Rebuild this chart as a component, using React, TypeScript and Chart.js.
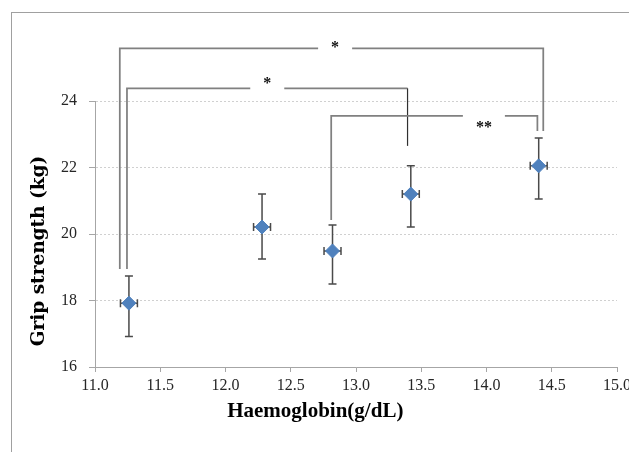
import React, { useEffect, useRef } from 'react';
import { Chart, registerables } from 'chart.js';

Chart.register(...registerables);

// ---- data ----
const haemoglobin = [11.26, 12.28, 12.82, 13.42, 14.40];
const haemoglobinErr = [0.065, 0.065, 0.065, 0.065, 0.065];
const gripStrength = [17.92, 20.21, 19.49, 21.20, 22.05];
const gripUpper = [18.74, 21.20, 20.27, 22.05, 22.89];
const gripLower = [16.92, 19.25, 18.50, 20.21, 21.05];

const xMin = 11.0;
const xMax = 15.0;
const xStep = 0.5;
const yMin = 16;
const yMax = 24;
const yStep = 2;

const xTitle = 'Haemoglobin(g/dL)';
const yTitle = 'Grip strength (kg)';

// significance brackets (data coordinates)
const bracketLabels = ['*', '*', '**'];
const bracketLeftX = [11.19, 11.245, 12.81];
const bracketLeftBottom = [18.95, 18.95, 20.42];
const bracketTop = [25.58, 24.38, 23.55];
const bracketRightX = [14.435, 13.395, 14.39];
const bracketRightBottom = [23.1, 22.65, 23.1];
const bracketLabelX = [12.84, 12.32, 13.98];
const bracketLabelY = [25.7, 24.6, 23.28];

const TICK_FONT = "'Liberation Serif', 'Times New Roman', serif";

const overlayPlugin = {
  id: 'overlay',
  beforeDraw(chart: any) {
    const { ctx, width, height } = chart;
    ctx.save();
    ctx.fillStyle = '#ffffff';
    ctx.fillRect(0, 0, width, height);
    ctx.strokeStyle = '#a0a0a0';
    ctx.lineWidth = 1;
    ctx.strokeRect(11.5, 12.5, width + 50, height + 50);
    ctx.restore();
  },
  beforeDatasetsDraw(chart: any) {
    const { ctx } = chart;
    const xs = chart.scales.x;
    const ys = chart.scales.y;
    ctx.save();
    ctx.strokeStyle = '#4a4a4a';
    ctx.lineWidth = 1.5;
    for (let i = 0; i < haemoglobin.length; i++) {
      const cx = xs.getPixelForValue(haemoglobin[i]);
      const cy = ys.getPixelForValue(gripStrength[i]);
      const yt = ys.getPixelForValue(gripUpper[i]);
      const yb = ys.getPixelForValue(gripLower[i]);
      const xl = xs.getPixelForValue(haemoglobin[i] - haemoglobinErr[i]);
      const xr = xs.getPixelForValue(haemoglobin[i] + haemoglobinErr[i]);
      ctx.beginPath();
      ctx.moveTo(cx, yt);
      ctx.lineTo(cx, yb);
      ctx.moveTo(cx - 4, yt);
      ctx.lineTo(cx + 4, yt);
      ctx.moveTo(cx - 4, yb);
      ctx.lineTo(cx + 4, yb);
      ctx.moveTo(xl, cy);
      ctx.lineTo(xr, cy);
      ctx.moveTo(xl, cy - 4);
      ctx.lineTo(xl, cy + 4);
      ctx.moveTo(xr, cy - 4);
      ctx.lineTo(xr, cy + 4);
      ctx.stroke();
    }
    ctx.restore();
  },
  afterDraw(chart: any) {
    const { ctx, chartArea } = chart;
    const xs = chart.scales.x;
    const ys = chart.scales.y;
    ctx.save();
    // brackets
    ctx.font = "bold 16px 'Liberation Serif', serif";
    for (let i = 0; i < bracketLabels.length; i++) {
      const lx = xs.getPixelForValue(bracketLeftX[i]);
      const rx = xs.getPixelForValue(bracketRightX[i]);
      const ty = ys.getPixelForValue(bracketTop[i]);
      const lb = ys.getPixelForValue(bracketLeftBottom[i]);
      const rb = ys.getPixelForValue(bracketRightBottom[i]);
      const tx = xs.getPixelForValue(bracketLabelX[i]);
      const tyl = ys.getPixelForValue(bracketLabelY[i]);
      const tw = ctx.measureText(bracketLabels[i]).width;
      const gap = tw / 2 + 13;
      ctx.strokeStyle = '#808080';
      ctx.lineWidth = 1.75;
      ctx.beginPath();
      ctx.moveTo(lx, lb);
      ctx.lineTo(lx, ty);
      ctx.lineTo(tx - gap, ty);
      ctx.moveTo(tx + gap, ty);
      ctx.lineTo(rx, ty);
      if (i !== 1) ctx.lineTo(rx, rb);
      ctx.stroke();
      if (i === 1) {
        ctx.strokeStyle = '#303030';
        ctx.lineWidth = 1.2;
        ctx.beginPath();
        ctx.moveTo(rx, ty);
        ctx.lineTo(rx, rb);
        ctx.stroke();
      }
      ctx.fillStyle = '#111111';
      ctx.textAlign = 'center';
      ctx.textBaseline = 'middle';
      ctx.fillText(bracketLabels[i], tx, tyl + 3);
    }
    // axis titles
    ctx.fillStyle = '#000000';
    ctx.textAlign = 'center';
    ctx.textBaseline = 'middle';
    ctx.font = "bold 21px 'Liberation Serif', 'Times New Roman', serif";
    ctx.fillText(xTitle, chartArea.left + chartArea.width * 0.422, chartArea.bottom + 45);
    ctx.translate(chartArea.left - 56, chartArea.top + chartArea.height * 0.564);
    ctx.rotate(-Math.PI / 2);
    ctx.font = "bold 18.5px 'DejaVu Serif', serif";
    ctx.fillText(yTitle, 0, 0);
    ctx.restore();
  },
};

export default function App() {
  const ref = useRef<HTMLCanvasElement | null>(null);
  useEffect(() => {
    if (!ref.current) return;
    const chart = new Chart(ref.current, {
      type: 'scatter',
      data: {
        datasets: [
          {
            label: 'Grip strength',
            data: haemoglobin.map((x, i) => ({ x, y: gripStrength[i] })),
            pointStyle: 'rectRot',
            pointRadius: 7,
            pointHoverRadius: 7,
            backgroundColor: '#4f81bd',
            borderColor: '#4f81bd',
            borderWidth: 1,
          },
        ],
      },
      options: {
        responsive: false,
        animation: false,
        devicePixelRatio: 1,
        events: [],
        layout: { padding: { left: 0, top: 101, right: 83, bottom: 103 } },
        plugins: { legend: { display: false }, tooltip: { enabled: false } },
        scales: {
          x: {
            type: 'linear',
            min: xMin,
            max: xMax,
            afterFit: (s: any) => {
              s.height = 30;
            },
            ticks: {
              stepSize: xStep,
              autoSkip: false,
              maxRotation: 0,
              padding: 4,
              color: '#262626',
              font: { family: TICK_FONT, size: 16 },
              callback: (v: any) => Number(v).toFixed(1),
            },
            grid: {
              drawOnChartArea: false,
              drawTicks: true,
              tickLength: 5,
              tickColor: '#a6a6a6',
              tickWidth: 1,
            },
            border: { display: true, color: '#a6a6a6', width: 1 },
          },
          y: {
            type: 'linear',
            min: yMin,
            max: yMax,
            afterFit: (s: any) => {
              s.width = 95;
            },
            ticks: {
              stepSize: yStep,
              padding: 12,
              color: '#262626',
              font: { family: TICK_FONT, size: 16 },
            },
            grid: {
              color: '#d0d0d0',
              lineWidth: 1,
              drawTicks: true,
              tickLength: 6,
              tickColor: '#a6a6a6',
              tickWidth: 1,
            },
            border: { display: true, color: '#a6a6a6', width: 1, dash: [2, 2] },
          },
        },
      },
      plugins: [overlayPlugin],
    } as any);
    return () => chart.destroy();
  }, []);
  return (
    <div
      style={{
        position: 'fixed',
        left: 0,
        top: 0,
        width: 629,
        height: 452,
        overflow: 'hidden',
        background: '#fff',
      }}
    >
      <canvas ref={ref} width={700} height={500} style={{ display: 'block', width: 700, height: 500 }} />
    </div>
  );
}
